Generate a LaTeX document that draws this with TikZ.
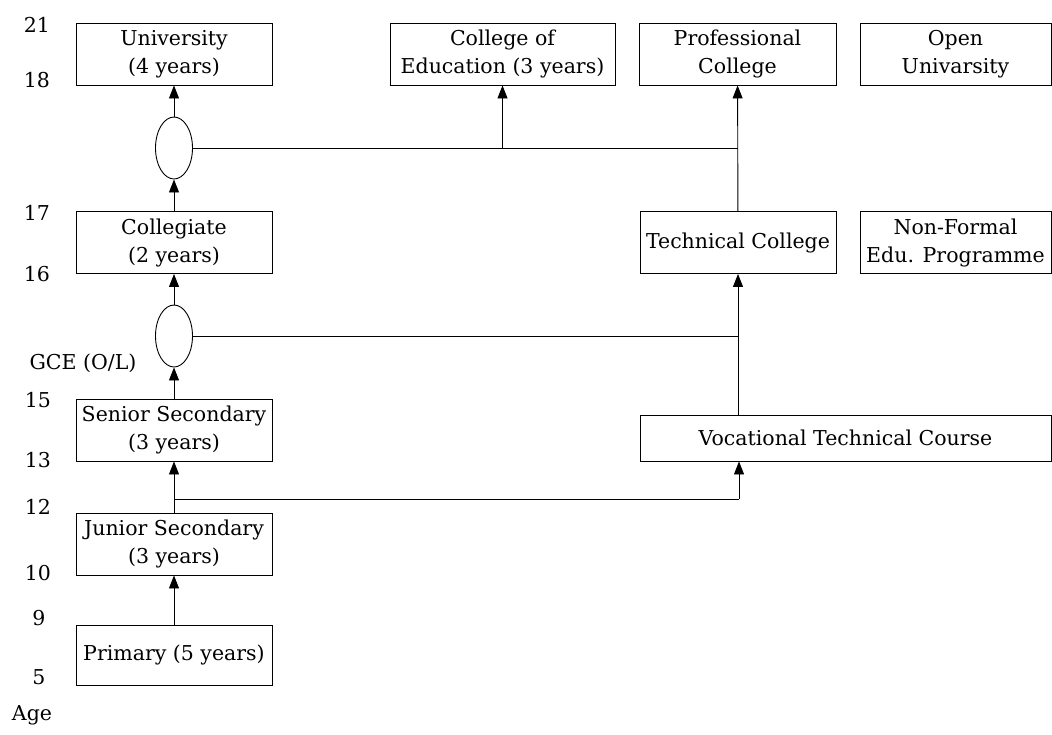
\documentclass[tikz,border=0pt]{standalone}
\usepackage{fontspec}
\setmainfont{DejaVu Serif}
\usetikzlibrary{arrows.meta,positioning,calc,shapes.geometric}

\begin{document}
\begin{tikzpicture}[x=1pt,y=-1pt,
  font=\fontsize{20.5}{28}\selectfont,
  every node/.style={align=center},
  box/.style={draw,line width=0.9pt,inner sep=0pt,minimum width=196pt,minimum height=62pt},
  sel/.style={draw,ellipse,line width=0.9pt,inner sep=0pt,minimum width=37pt,minimum height=62pt},
  age/.style={inner sep=0pt},
  e/.style={line width=0.9pt},
  a/.style={e,-{Triangle[length=13pt,width=10pt]}}]
\useasboundingbox (0,0) rectangle (1052,734);

% --- top row ---
\node[box] (univ)  at (174,54)   {University\\(4 years)};
\node[box,minimum width=225pt] (coled) at (502.5,54) {College of\\Education (3 years)};
\node[box,minimum width=197pt] (prof)  at (737.5,54) {Professional\\College};
\node[box,minimum width=191pt] (openu) at (955.5,54) {Open\\Univarsity};

% --- selection points ---
\node[sel] (selA) at (174,148) {};
\node[sel] (selB) at (174,336) {};

% --- middle ---
\node[box] (coll)  at (174,242.5) {Collegiate\\(2 years)};
\node[box] (tech)  at (738,242.5) {Technical College};
\node[box,minimum width=191pt] (nonf) at (955.5,242.5) {Non-Formal\\Edu. Programme};
\node[box] (senior) at (174,430) {Senior Secondary\\(3 years)};
\node[box,minimum width=411pt,minimum height=46pt] (voc) at (845.5,438) {Vocational Technical Course};

% --- bottom ---
\node[box] (junior)  at (174,544)   {Junior Secondary\\(3 years)};
\node[box,minimum height=60pt] (primary) at (174,655) {Primary (5 years)};

% --- ages ---
\node[age] (a21) at (37,25)  {21};
\node[age] (a18) at (37,80)  {18};
\node[age] (a17) at (37,213) {17};
\node[age] (a16) at (37,274) {16};
\node[age] (gce) at (83,363) {GCE (O/L)};
\node[age] (a15) at (38,400) {15};
\node[age] (a13) at (38,460) {13};
\node[age] (a12) at (38,507) {12};
\node[age] (a10) at (38,573) {10};
\node[age] (a9)  at (39,618) {9};
\node[age] (a5)  at (39,677) {5};
\node[age] (ag)  at (32,715) {Age};

\coordinate (jv) at (739,499);

% edges, left column
\draw[a] (primary) -- (junior);
\draw[a] (junior) -- (senior);
\draw[a] (senior) -- (selB);
\draw[a] (selB) -- (coll);
\draw[a] (coll) -- (selA);
\draw[a] (selA) -- (univ);
% edges, right side
\draw[e] (selA.east) -- (selA.east -| prof.south);
\draw[a] (selA.east -| coled.south) -- (coled.south);
\draw[a] (tech) -- (prof);
\draw[e] (selB.east) -- (selB.east -| tech.south);
\draw[a] (voc.north -| tech.south) -- (tech);
\draw[e] (junior.north |- jv) -- (jv);
\draw[a] (jv) -- (jv |- voc.south);
\end{tikzpicture}
\end{document}
